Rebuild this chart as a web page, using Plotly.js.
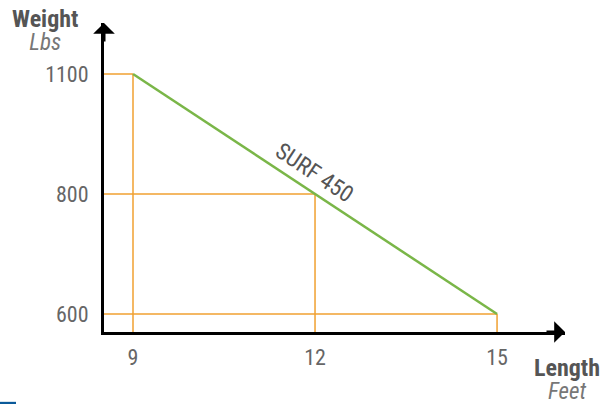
<!DOCTYPE html>
<html>
<head>
<meta charset="utf-8">
<script src="https://cdn.plot.ly/plotly-3.0.1.min.js"></script>
<style>
  html, body { margin: 0; padding: 0; background: #fff; }
  #chart { width: 600px; height: 404px; }
</style>
</head>
<body>
<div id="chart"></div>
<script>
// board length (feet) vs rider weight (lbs)
var lengths = [9, 12, 15];
var weights = ['1100', '800', '600'];
var weightTicks = ['600', '800', '1100'];
var seriesName = 'SURF 450';

var FONT = 'Roboto Condensed, Liberation Sans Narrow, DejaVu Sans Condensed, Roboto, sans-serif';
var GREEN = '#7ab648';
var ORANGE = '#f0a030';

var xRange = [8.522, 16.12];
var yRange = [-0.15, 2.425];

// guide lines from each point back to both axes
var shapes = [];
lengths.forEach(function (x, i) {
    var yi = weightTicks.indexOf(weights[i]);
    shapes.push({ type: 'line', layer: 'below', xref: 'x', yref: 'y',
        x0: xRange[0], x1: x, y0: yi, y1: yi, line: { color: ORANGE, width: 1.5 } });
    shapes.push({ type: 'line', layer: 'below', xref: 'x', yref: 'y',
        x0: x, x1: x, y0: yRange[0], y1: yi, line: { color: ORANGE, width: 1.5 } });
});
// little blue mark in the corner
shapes.push({ type: 'rect', xref: 'paper', yref: 'paper',
    x0: -104 / 461, x1: -88 / 461, y0: -0.233, y1: -0.226,
    fillcolor: '#0a5a9a', line: { width: 0 } });

var trace = {
    x: lengths,
    y: weights,
    type: 'scatter',
    mode: 'lines',
    line: { color: GREEN, width: 2.5 },
    hoverinfo: 'skip'
};

function axisTitle(name, unit) {
    return '<span style="font-size:24px;color:#555"><b>' + name + '</b></span><br>' +
           '<span style="font-size:23px;color:#777"><i>' + unit + '</i></span>';
}

var layout = {
    width: 600,
    height: 404,
    margin: { l: 104, r: 35, t: 23, b: 72 },
    paper_bgcolor: '#fff',
    plot_bgcolor: '#fff',
    showlegend: false,
    font: { family: FONT, color: '#666', size: 20 },
    xaxis: {
        range: xRange,
        tickvals: lengths,
        showgrid: false, zeroline: false,
        showline: true, linecolor: '#000', linewidth: 3,
        ticks: '', ticklabelstandoff: 4,
        tickfont: { family: FONT, size: 22, color: '#666' }
    },
    yaxis: {
        type: 'category',
        categoryorder: 'array',
        categoryarray: weightTicks,
        range: yRange,
        showgrid: false, zeroline: false,
        showline: true, linecolor: '#000', linewidth: 3,
        ticks: '', ticklabelstandoff: 8,
        tickfont: { family: FONT, size: 22, color: '#666' }
    },
    shapes: shapes,
    annotations: [
        // arrow heads
        { xref: 'paper', yref: 'paper', x: 1, y: 0, ax: -20, ay: 0, text: '',
          showarrow: true, arrowhead: 1, arrowsize: 1.2, arrowwidth: 3, arrowcolor: '#000', standoff: 0 },
        { xref: 'paper', yref: 'paper', x: 0, y: 1, ax: 0, ay: 20, text: '',
          showarrow: true, arrowhead: 1, arrowsize: 1.2, arrowwidth: 3, arrowcolor: '#000', standoff: 0 },
        // series label along the line
        { xref: 'x', yref: 'y', x: lengths[1], y: weightTicks.indexOf(weights[1]),
          text: seriesName, showarrow: false, textangle: 33.4, yshift: 22, xshift: -1,
          font: { family: FONT, size: 23, color: '#555' } },
        // axis titles
        { xref: 'paper', yref: 'paper', x: -0.129, y: 0.977, xanchor: 'center', yanchor: 'middle',
          showarrow: false, align: 'center', text: axisTitle('Weight', 'Lbs'),
          font: { family: FONT, size: 17.7, color: '#555' } },
        { xref: 'paper', yref: 'paper', x: 1.005, y: -0.155, xanchor: 'center', yanchor: 'middle',
          showarrow: false, align: 'center', text: axisTitle('Length', 'Feet'),
          font: { family: FONT, size: 17.7, color: '#555' } }
    ]
};

Plotly.newPlot('chart', [trace], layout, { displayModeBar: false, staticPlot: true });
</script>
</body>
</html>
